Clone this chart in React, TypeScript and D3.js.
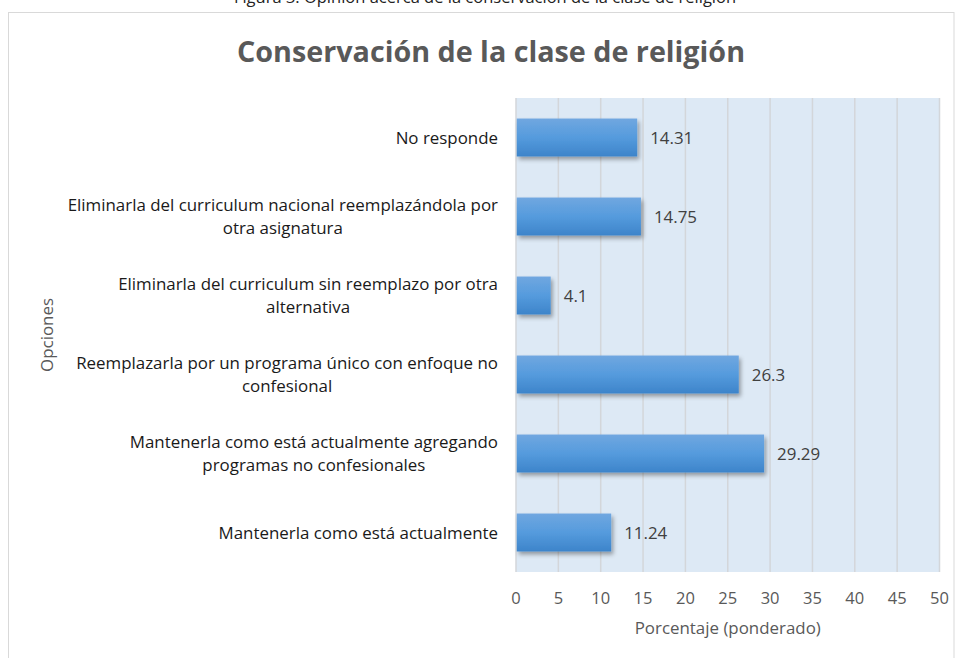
import React, { useMemo } from "react";
import * as d3 from "d3";

const categories: string[][] = [
  ["No responde"],
  ["Eliminarla del curriculum nacional reemplazándola por", "otra asignatura"],
  ["Eliminarla del curriculum sin reemplazo por otra", "alternativa"],
  ["Reemplazarla por un programa único con enfoque no", "confesional"],
  ["Mantenerla como está actualmente agregando", "programas no confesionales"],
  ["Mantenerla como está actualmente"],
];
const values: number[] = [14.31, 14.75, 4.1, 26.3, 29.29, 11.24];
const xTicks: number[] = [0, 5, 10, 15, 20, 25, 30, 35, 40, 45, 50];
const caption = "Figura 3: Opinión acerca de la conservación de la clase de religión";
const title = "Conservación de la clase de religión";
const xTitle = "Porcentaje (ponderado)";
const yTitle = "Opciones";

const FONT = "'Open Sans', 'DejaVu Sans', sans-serif";
const LABEL_SIZE = 16.9;

const W = 959;
const H = 658;
const plot = { left: 516, right: 939.5, top: 98, bottom: 572 };

function measure(text: string, size: number): number {
  if (typeof document === "undefined") return text.length * size * 0.55;
  const c = document.createElement("canvas");
  const ctx = c.getContext("2d");
  if (!ctx) return text.length * size * 0.55;
  ctx.font = `${size}px 'Open Sans'`;
  return ctx.measureText(text).width;
}

export default function App() {
  const keys = categories.map((c) => c.join(" "));
  const x = d3.scaleLinear().domain([0, 50]).range([plot.left, plot.right]);
  const y = d3
    .scaleBand<string>()
    .domain(keys)
    .range([plot.top, plot.bottom])
    .paddingInner(0.52)
    .paddingOuter(0.26);

  const widths = useMemo(
    () => categories.map((lines) => Math.max(...lines.map((l) => measure(l, LABEL_SIZE)))),
    []
  );

  const labelRight = 498;
  const lineH = 23;

  return (
    <svg
      width={W}
      height={H}
      style={{ position: "absolute", left: 0, top: 0, background: "#fff" }}
      fontFamily={FONT}
    >
      <defs>
        <linearGradient id="barGrad" x1="0" y1="0" x2="0" y2="1">
          <stop offset="0%" stopColor="#70A7E0" />
          <stop offset="50%" stopColor="#559BDD" />
          <stop offset="100%" stopColor="#3D84CA" />
        </linearGradient>
        <filter id="shadow" x="-10%" y="-20%" width="130%" height="160%">
          <feDropShadow dx="2" dy="3" stdDeviation="2" floodColor="#000" floodOpacity="0.35" />
        </filter>
      </defs>

      {/* caption (clipped at top, as in the reference) */}
      <text x={485} y={3} textAnchor="middle" fontSize={16.5} fill="#222">
        {caption}
      </text>

      {/* chart border */}
      <rect x={8.5} y={12.5} width={945.5} height={H} fill="#fff" stroke="#D9D9D9" strokeWidth={1} />

      {/* title */}
      <text
        x={491}
        y={62}
        textAnchor="middle"
        fontSize={28}
        fontWeight="bold"
        fill="#595959"
        textLength={508}
        lengthAdjust="spacingAndGlyphs"
      >
        {title}
      </text>

      {/* plot background */}
      <rect
        x={plot.left}
        y={plot.top}
        width={plot.right - plot.left}
        height={plot.bottom - plot.top}
        fill="#DDE9F5"
      />

      {/* gridlines */}
      {xTicks.map((t) => (
        <line
          key={"g" + t}
          x1={x(t)}
          x2={x(t)}
          y1={plot.top}
          y2={plot.bottom}
          stroke="#D3D6DA"
          strokeWidth={1.5}
        />
      ))}

      {/* bars */}
      {keys.map((k, i) => (
        <rect
          key={"b" + i}
          x={x(0) + 0.75}
          y={y(k)!}
          width={x(values[i]) - x(0) - 0.75}
          height={y.bandwidth()}
          fill="url(#barGrad)"
          filter="url(#shadow)"
        />
      ))}

      {/* value labels */}
      {keys.map((k, i) => (
        <text
          key={"v" + i}
          x={x(values[i]) + 13}
          y={y(k)! + y.bandwidth() / 2}
          dy="0.36em"
          fontSize={LABEL_SIZE}
          fill="#404040"
        >
          {values[i]}
        </text>
      ))}

      {/* category labels */}
      {categories.map((lines, i) => {
        const cy = y(keys[i])! + y.bandwidth() / 2;
        const cx = labelRight - widths[i] / 2;
        return (
          <text key={"c" + i} fontSize={LABEL_SIZE} fill="#1a1a1a" textAnchor="middle">
            {lines.map((l, j) => (
              <tspan
                key={j}
                x={cx}
                y={cy + (j - (lines.length - 1) / 2) * lineH}
                dy="0.36em"
              >
                {l}
              </tspan>
            ))}
          </text>
        );
      })}

      {/* x tick labels */}
      {xTicks.map((t) => (
        <text key={"t" + t} x={x(t)} y={604} textAnchor="middle" fontSize={16.5} fill="#595959">
          {t}
        </text>
      ))}

      {/* axis titles */}
      <text
        x={(plot.left + plot.right) / 2}
        y={634}
        textAnchor="middle"
        fontSize={16.9}
        fill="#595959"
      >
        {xTitle}
      </text>
      <text
        transform={`translate(53, ${(plot.top + plot.bottom) / 2}) rotate(-90)`}
        textAnchor="middle"
        fontSize={16.9}
        fill="#595959"
      >
        {yTitle}
      </text>
    </svg>
  );
}
